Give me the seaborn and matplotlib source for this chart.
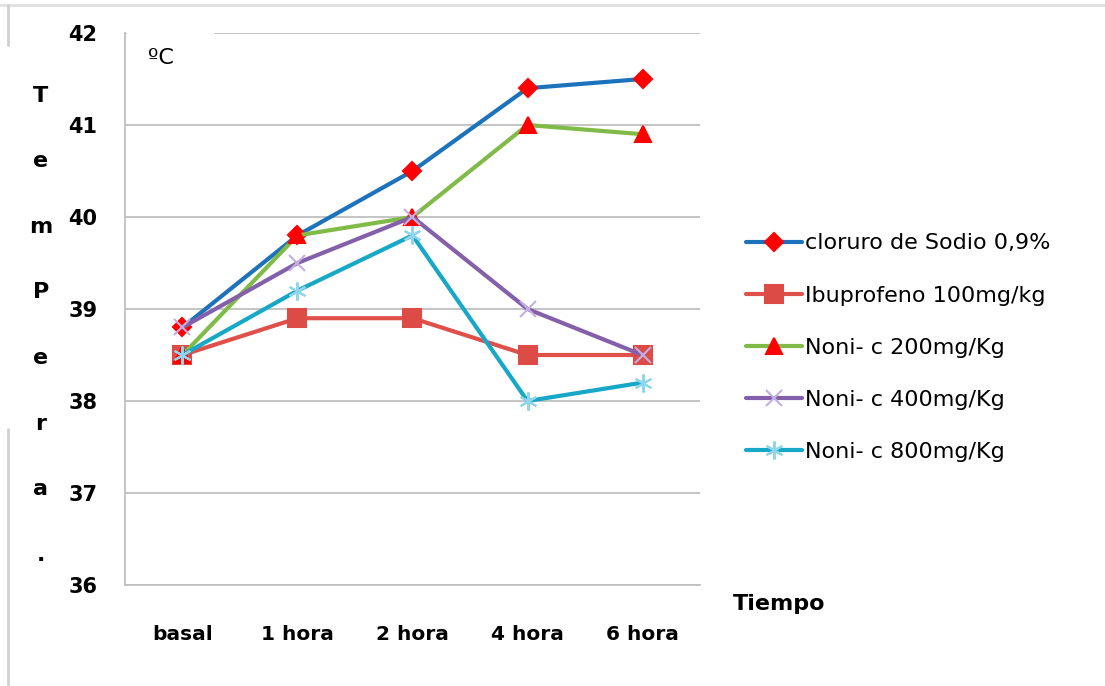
import pandas as pd
import matplotlib.pyplot as plt
import seaborn as sns
from matplotlib.lines import Line2D
from matplotlib.patches import Rectangle

tiempos = ['basal', '1 hora', '2 hora', '4 hora', '6 hora']
series = ['cloruro de Sodio 0,9%', 'Ibuprofeno 100mg/kg', 'Noni- c 200mg/Kg',
          'Noni- c 400mg/Kg', 'Noni- c 800mg/Kg']
cloruro = [38.8, 39.8, 40.5, 41.4, 41.5]
ibuprofeno = [38.5, 38.9, 38.9, 38.5, 38.5]
noni_200 = [38.5, 39.8, 40.0, 41.0, 40.9]
noni_400 = [38.8, 39.5, 40.0, 39.0, 38.5]
noni_800 = [38.5, 39.2, 39.8, 38.0, 38.2]
valores = [cloruro, ibuprofeno, noni_200, noni_400, noni_800]

# estilo de cada serie: color linea, marcador, color marcador, tamano
estilos = [
    ('#1D72BC', 'D', '#FF0000', 9),
    ('#E0504B', 's', '#DD4B47', 13),
    ('#80BB48', '^', '#FF0000', 11),
    ('#8560AA', 'x', '#C2AEE0', 11),
    ('#17A8C8', (6, 2, 0), '#8FD6EC', 13),
]

df = pd.DataFrame({
    'Tiempo': tiempos * len(series),
    'Temp': sum(valores, []),
    'Serie': [s for s in series for _ in tiempos],
})

sns.set_style('white')
plt.rcParams['font.family'] = ['DejaVu Sans']
plt.rcParams['text.color'] = 'black'
plt.rcParams['xtick.labelcolor'] = 'black'
plt.rcParams['ytick.labelcolor'] = 'black'

fig = plt.figure(figsize=(11.05, 6.86), dpi=100)
ax = fig.add_axes([0.1131, 0.1472, 0.5204, 0.8047])

handles = []
for (s, (lc, mk, mc, ms)) in zip(series, estilos):
    d = df[df['Serie'] == s]
    sns.lineplot(data=d, x='Tiempo', y='Temp', ax=ax, color=lc, linewidth=3,
                 marker=mk, markersize=ms, markerfacecolor=mc, markeredgecolor=mc,
                 markeredgewidth=1.5, legend=False, zorder=3)
    handles.append(Line2D([0], [0], color=lc, linewidth=3, marker=mk, markersize=ms,
                          markerfacecolor=mc, markeredgecolor=mc, markeredgewidth=1.5))

ax.set_xlim(-0.5, 4.5)
ax.set_ylim(36, 42)
ax.set_yticks([36, 37, 38, 39, 40, 41, 42])
ax.yaxis.grid(True, color='#BFBFBF', linewidth=1.3, zorder=0)
ax.set_axisbelow(True)
for sp in ['top', 'right']:
    ax.spines[sp].set_visible(False)
for sp in ['left', 'bottom']:
    ax.spines[sp].set_color('#BFBFBF')
    ax.spines[sp].set_linewidth(1.3)

ax.set_xticks(range(len(tiempos)))
ax.set_xticklabels(tiempos, fontsize=14.5, fontweight='bold')
ax.set_xticks([i - 0.5 for i in range(len(tiempos) + 1)], minor=True)
ax.tick_params(axis='x', which='major', length=0, pad=29)
ax.tick_params(axis='x', which='minor', length=8, width=1.3, color='#BFBFBF', direction='out')
ax.tick_params(axis='y', length=8, width=1.3, color='#BFBFBF', direction='out', pad=12,
               labelsize=15)
for t in ax.get_yticklabels():
    t.set_fontweight('bold')
ax.set_xlabel('')
ax.set_ylabel('')

# hueco blanco en la linea de 42 detras de la etiqueta
ax.add_patch(Rectangle((0.004, 0.975), 0.15, 0.04, transform=ax.transAxes,
                       facecolor='white', edgecolor='none', clip_on=False, zorder=2))
ax.text(0.04, 0.955, 'ºC', transform=ax.transAxes, fontsize=16,
        va='center', ha='left')

fig.text(0.663, 0.12, 'Tiempo', fontsize=16, fontweight='bold', ha='left', va='center')

# titulo vertical letra a letra
fig.text(0.037, 0.526, 'T\ne\nm\nP\ne\nr\na\n.', fontsize=16, fontweight='bold',
         ha='center', va='center', linespacing=3.85)

fig.legend(handles, series, loc='center left', bbox_to_anchor=(0.657, 0.493),
           frameon=False, fontsize=16, handlelength=2.5, handletextpad=0.15,
           labelspacing=1.45)

# borde de la captura
fig.add_artist(Line2D([0, 1], [0.992, 0.992], color='#E0E0E0', linewidth=2))
fig.add_artist(Line2D([0.007, 0.007], [0.935, 0.992], color='#D0D0D0', linewidth=2))
fig.add_artist(Line2D([0.007, 0.007], [0, 0.375], color='#D0D0D0', linewidth=2))

plt.savefig('out.png', dpi=100)
